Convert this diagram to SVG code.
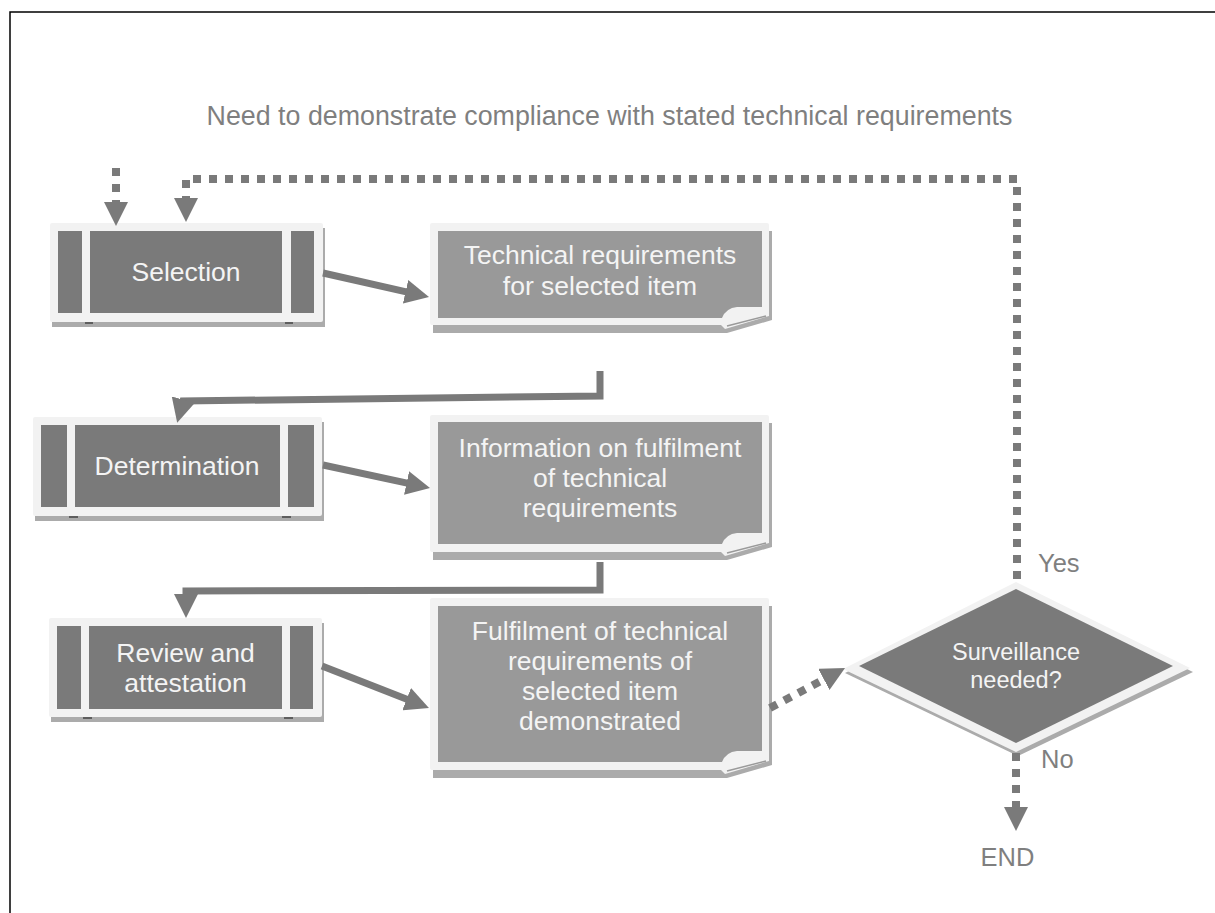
<svg xmlns="http://www.w3.org/2000/svg" width="1215" height="913" viewBox="0 0 1215 913">
<defs>
<style>
.frame{fill:#f2f2f2}
.shadow{fill:#ababab}
.dark{fill:#7a7a7a}
.note{fill:#999999}
.tick{fill:#5e5e5e}
.boxtxt{font-family:"Liberation Sans",Arial,sans-serif;font-size:26.5px;fill:#f4f4f4;text-anchor:middle}
.dtxt{font-family:"Liberation Sans",Arial,sans-serif;font-size:23.5px;fill:#f4f4f4;text-anchor:middle}
.lbl{font-family:"Liberation Sans",Arial,sans-serif;font-size:25.5px;fill:#7f7f7f}
.solid{fill:none;stroke:#7a7a7a;stroke-width:7;stroke-linejoin:miter}
.dotted{fill:none;stroke:#7a7a7a;stroke-width:8;stroke-dasharray:8 8}
</style>
<marker id="ah" markerUnits="userSpaceOnUse" markerWidth="24" markerHeight="24" viewBox="0 0 24 24" refX="3" refY="12" orient="auto">
<path d="M0,0 L24,12 L0,24 Z" fill="#7a7a7a"/>
</marker>
</defs>
<rect width="1215" height="913" fill="#ffffff"/>
<path d="M10,913 V12 H1215" fill="none" stroke="#000000" stroke-width="1.5"/>
<text class="lbl" x="609.5" y="125" text-anchor="middle" style="font-size:26.8px">Need to demonstrate compliance with stated technical requirements</text>

<g id="selection">
<rect class="shadow" x="52" y="228" width="273" height="99"/>
<rect class="frame" x="50" y="223" width="273" height="99" rx="2"/>
<rect class="dark" x="58" y="231" width="24" height="82"/>
<rect class="dark" x="90" y="231" width="192" height="82"/>
<rect class="dark" x="291" y="231" width="23" height="82"/>
<rect class="tick" x="85" y="322" width="8" height="2"/>
<rect class="tick" x="285" y="322" width="8" height="2"/>
<text class="boxtxt" x="186" y="281">Selection</text>
</g>

<g id="tech-req">
<path class="shadow" d="M433,231 H772 V320 L727,333 H433 Z"/>
<path class="frame" d="M432,223 H767 Q769,223 769,225 V316 L725,329 L721,325 H432 Q430,325 430,323 V225 Q430,223 432,223 Z"/>
<path class="note" d="M438,231 H762 V307 H737 Q726,308 722,318 H438 Z"/>
<path d="M727,326 L766,316" stroke="#9a9a9a" stroke-width="1.5" fill="none"/>
<text class="boxtxt" x="600" y="264">Technical requirements</text>
<text class="boxtxt" x="600" y="295">for selected item</text>
</g>

<g id="determination">
<rect class="shadow" x="35" y="422" width="289" height="99"/>
<rect class="frame" x="33" y="417" width="289" height="99" rx="2"/>
<rect class="dark" x="41" y="425" width="26" height="82"/>
<rect class="dark" x="75" y="425" width="205" height="82"/>
<rect class="dark" x="288" y="425" width="26" height="82"/>
<rect class="tick" x="69" y="516" width="9" height="2"/>
<rect class="tick" x="282" y="516" width="9" height="2"/>
<text class="boxtxt" x="177" y="475">Determination</text>
</g>

<g id="info">
<path class="shadow" d="M433,423 H772 V547 L727,560 H433 Z"/>
<path class="frame" d="M432,415 H767 Q769,415 769,417 V543 L725,556 L721,552 H432 Q430,552 430,550 V417 Q430,415 432,415 Z"/>
<path class="note" d="M438,422 H762 V533 H737 Q726,534 722,544 H438 Z"/>
<path d="M727,553 L766,543" stroke="#9a9a9a" stroke-width="1.5" fill="none"/>
<text class="boxtxt" x="600" y="457">Information on fulfilment</text>
<text class="boxtxt" x="600" y="487">of technical</text>
<text class="boxtxt" x="600" y="517">requirements</text>
</g>

<g id="review">
<rect class="shadow" x="51" y="623" width="273" height="99"/>
<rect class="frame" x="49" y="618" width="273" height="99" rx="2"/>
<rect class="dark" x="57" y="626" width="24" height="83"/>
<rect class="dark" x="89" y="626" width="193" height="83"/>
<rect class="dark" x="290" y="626" width="23" height="83"/>
<rect class="tick" x="83" y="717" width="9" height="2"/>
<rect class="tick" x="284" y="717" width="9" height="2"/>
<text class="boxtxt" x="185.5" y="662">Review and</text>
<text class="boxtxt" x="185.5" y="692">attestation</text>
</g>

<g id="fulfilment">
<path class="shadow" d="M433,606 H772 V765 L727,778 H433 Z"/>
<path class="frame" d="M432,598 H767 Q769,598 769,600 V761 L725,774 L721,770 H432 Q430,770 430,768 V600 Q430,598 432,598 Z"/>
<path class="note" d="M438,606 H762 V751 H737 Q726,752 722,762 H438 Z"/>
<path d="M727,771 L766,761" stroke="#9a9a9a" stroke-width="1.5" fill="none"/>
<text class="boxtxt" x="600" y="640">Fulfilment of technical</text>
<text class="boxtxt" x="600" y="670">requirements of</text>
<text class="boxtxt" x="600" y="700">selected item</text>
<text class="boxtxt" x="600" y="730">demonstrated</text>
</g>

<g id="decision">
<polygon class="shadow" points="845,673 1018,586 1193,672 1018,756"/>
<polygon class="frame" points="843,669 1016,582 1190,668 1016,752"/>
<polygon class="dark" points="859,666 1016,589 1173,666 1016,743"/>
<text class="dtxt" x="1016" y="660">Surveillance</text>
<text class="dtxt" x="1016" y="688">needed?</text>
</g>

<g id="connectors">
<path class="dotted" d="M116,168 V205" marker-end="url(#ah)"/>
<path class="dotted" d="M1017,582 V179 H186 V201" style="stroke-dashoffset:13" marker-end="url(#ah)"/>
<path class="solid" d="M323,273 L408.5,292.4" marker-end="url(#ah)"/>
<path class="solid" d="M600,371 L600,396 L183,401 L182.6,402.5" marker-end="url(#ah)"/>
<path class="solid" d="M323,465 L409.5,483.6" marker-end="url(#ah)"/>
<path class="solid" d="M600,562 L600,590 L186,591 L186,597" marker-end="url(#ah)"/>
<path class="solid" d="M322,666 L409.4,700.3" marker-end="url(#ah)"/>
<path class="dotted" d="M770,708 L826.5,677.9" marker-end="url(#ah)"/>
<path class="dotted" d="M1016,753 V810" marker-end="url(#ah)"/>
</g>

<text class="lbl" x="1038" y="572">Yes</text>
<text class="lbl" x="1041" y="768">No</text>
<text class="lbl" x="1007.5" y="866" text-anchor="middle">END</text>
</svg>
